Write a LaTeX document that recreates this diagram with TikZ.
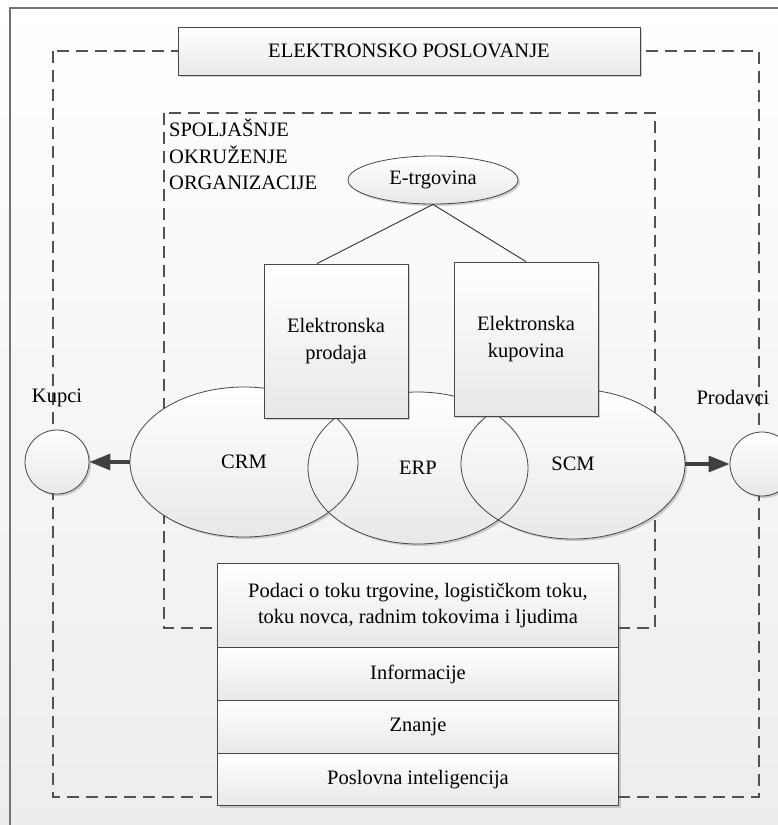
\documentclass[tikz,border=0pt]{standalone}
\usepackage{fontspec}
\setmainfont{Liberation Serif}
\usetikzlibrary{arrows.meta,shapes.geometric,shadows}
\begin{document}
\begin{tikzpicture}[x=1pt,y=-1pt,
  every node/.style={font=\fontsize{20.5}{26.5}\selectfont, text=black},
  frameline/.style={draw=black!68, line width=1.6pt, dash pattern=on 12pt off 7pt},
  gradfill/.style={top color=white, bottom color=black!9},
  outline/.style={draw=black!72, line width=0.8pt},
  shadowed/.style={drop shadow={shadow xshift=2pt, shadow yshift=-2pt, opacity=0.25, fill=black!70}},
  blockbox/.style={rectangle, gradfill, outline, shadowed, inner sep=0pt, align=center},
  oval/.style={ellipse, inner sep=0pt},
  agent/.style={circle, gradfill, outline, shadowed, minimum size=64pt, inner sep=0pt},
  flowarrow/.style={draw=black!75, line width=3.2pt, -{Triangle[length=21pt,width=16pt]}},
  tie/.style={draw=black!80, line width=0.9pt},
]
\useasboundingbox (0,0) rectangle (778,825);

% page background and border
\shade[top color=white, bottom color=black!7] (0,0) rectangle (778,825);
\draw[black!55, line width=1.2pt] (10,840) -- (10,8) -- (790,8);

% dashed frames
\draw[frameline] (53,51) rectangle (759,797);
\draw[frameline] (164,113) rectangle (655,628);

% title of the outer frame
\node[blockbox, minimum width=462pt, minimum height=48pt] (title) at (409,51) {ELEKTRONSKO POSLOVANJE};

% label of the inner frame
\node[anchor=north west, align=left, inner sep=0pt] (env) at (169,119)
  {SPOLJAŠNJE\\OKRUŽENJE\\ORGANIZACIJE};

% overlapping system ellipses: fills first, then the outlines
\node[oval, gradfill, shadowed, minimum width=228pt, minimum height=150pt] (crm) at (244,462) {CRM};
\node[oval, gradfill, shadowed, minimum width=220pt, minimum height=152pt] (erp) at (418,468) {ERP};
\node[oval, gradfill, shadowed, minimum width=224pt, minimum height=150pt] (scm) at (573,464) {SCM};
\node[oval, outline, minimum width=228pt, minimum height=150pt] at (crm) {};
\node[oval, outline, minimum width=220pt, minimum height=152pt] at (erp) {};
\node[oval, outline, minimum width=224pt, minimum height=150pt] at (scm) {};

% e-commerce and its two branches
\node[oval, gradfill, outline, shadowed, minimum width=170pt, minimum height=48pt] (etrg) at (433,180) {E-trgovina};
\node[blockbox, minimum width=144pt, minimum height=154pt] (prodaja) at (336,341) {Elektronska\\prodaja};
\node[blockbox, minimum width=144pt, minimum height=154pt] (kupovina) at (526,339) {Elektronska\\kupovina};
\draw[tie] (etrg.south) -- ([xshift=-19pt]prodaja.north);
\draw[tie] (etrg.south) -- (kupovina.north);

% customers and suppliers
\node[agent] (kupci) at (57,462) {};
\node[agent] (prodavci) at (762,464) {};
\node (kupcilbl) at (57,398) {Kupci};
\node (prodavcilbl) at (733,397) {Prodavci};
\draw[flowarrow] (crm.west) -- (kupci.east);
\draw[flowarrow] (scm.east) -- (prodavci.west);

% stacked data layers
\node[blockbox, minimum width=401pt, minimum height=85pt] (r1) at (418,605.5)
  {Podaci o toku trgovine, logističkom toku,\\toku novca, radnim tokovima i ljudima};
\node[blockbox, minimum width=401pt, minimum height=53pt] (r2) at (418,674) {Informacije};
\node[blockbox, minimum width=401pt, minimum height=53pt] (r3) at (418,727) {Znanje};
\node[blockbox, minimum width=401pt, minimum height=52pt] (r4) at (418,779.5) {Poslovna inteligencija};
\end{tikzpicture}
\end{document}
